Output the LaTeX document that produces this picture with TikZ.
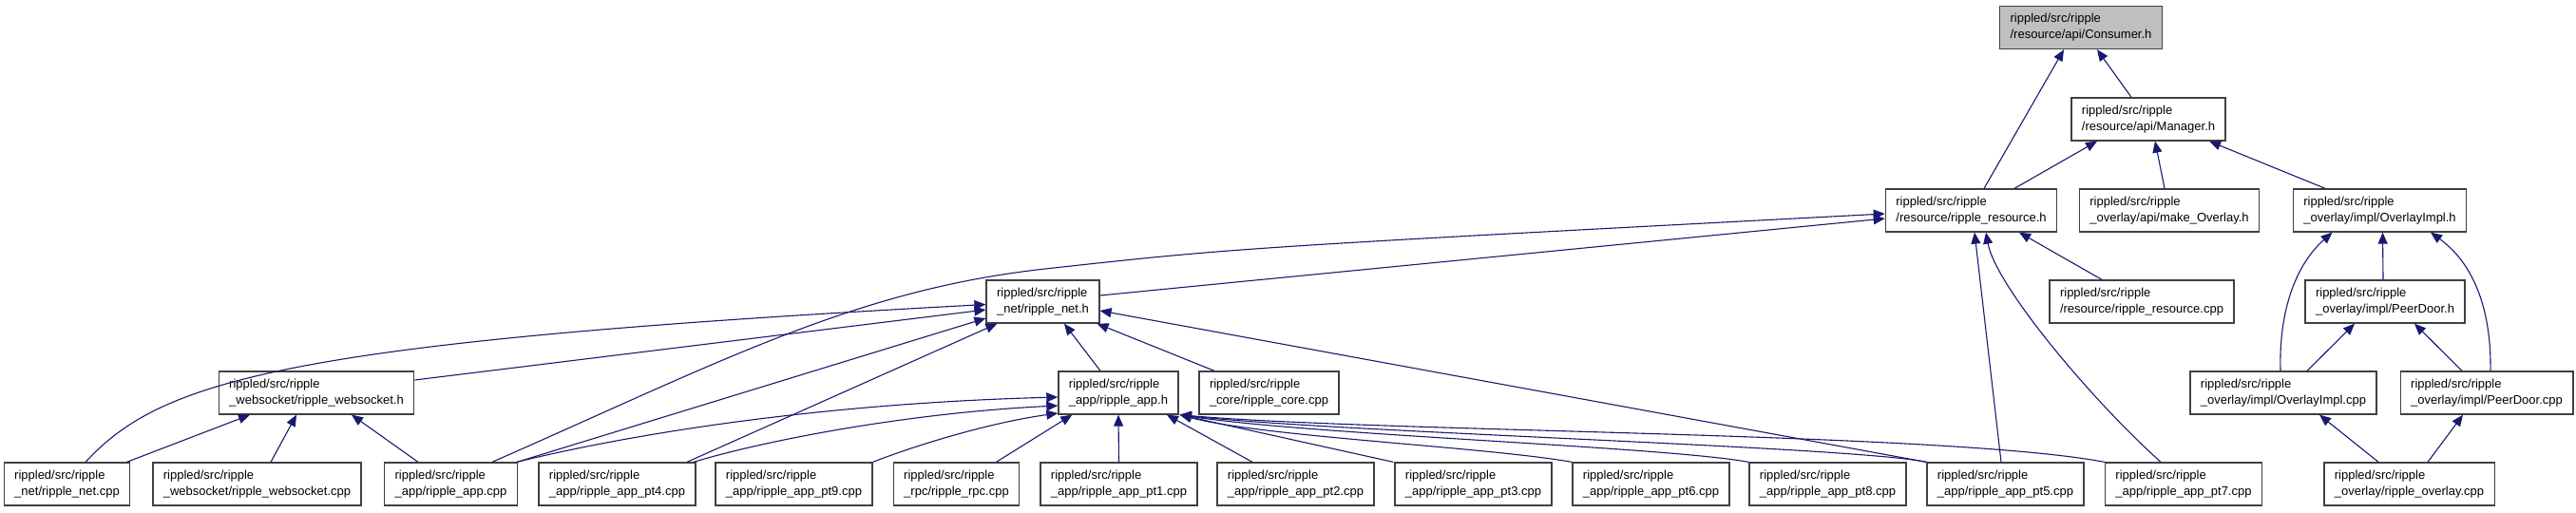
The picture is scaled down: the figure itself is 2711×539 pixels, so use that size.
\documentclass[tikz,border=0pt]{standalone}
\usepackage{fontspec}
\setmainfont{Liberation Sans}
\usetikzlibrary{arrows.meta,calc}
\definecolor{edgeblue}{RGB}{25,25,112}
\definecolor{boxline}{RGB}{64,64,64}
\definecolor{focusfill}{RGB}{191,191,191}
\newcommand{\rpath}[1]{rippled/src/ripple\\#1}
\begin{document}
\begin{tikzpicture}[x=1pt,y=-1pt,
  file/.style={draw=boxline,line width=1.3pt,fill=white,rectangle,inner xsep=11pt,inner ysep=0pt,
    minimum height=45pt,align=left,font=\fontsize{13}{17}\selectfont},
  focus/.style={file,fill=focusfill},
  dep/.style={draw=edgeblue,line width=1.1pt,-{Triangle[length=12pt,width=10pt]}}]
\fill[white] (0,0) rectangle (2711,539);
\useasboundingbox (0,0) rectangle (2711,539);
% row 0
\node[focus] (consumer) at (2190,29) {\rpath{/resource/api/Consumer.h}};
% row 1
\node[file] (manager) at (2261,125.5) {\rpath{/resource/api/Manager.h}};
% row 2
\node[file] (reshdr) at (2074.5,221.5) {\rpath{/resource/ripple\_resource.h}};
\node[file] (makeov) at (2283,221.5) {\rpath{\_overlay/api/make\_Overlay.h}};
\node[file] (ovimplh) at (2504.5,221.5) {\rpath{\_overlay/impl/OverlayImpl.h}};
% row 3
\node[file] (neth) at (1097.5,317.5) {\rpath{\_net/ripple\_net.h}};
\node[file] (rescpp) at (2254,317.5) {\rpath{/resource/ripple\_resource.cpp}};
\node[file] (peerdoorh) at (2510,317.5) {\rpath{\_overlay/impl/PeerDoor.h}};
% row 4
\node[file] (wsh) at (333,413.5) {\rpath{\_websocket/ripple\_websocket.h}};
\node[file] (apph) at (1177,413.5) {\rpath{\_app/ripple\_app.h}};
\node[file] (corecpp) at (1335.5,413.5) {\rpath{\_core/ripple\_core.cpp}};
\node[file] (ovimplcpp) at (2403,413.5) {\rpath{\_overlay/impl/OverlayImpl.cpp}};
\node[file] (peerdoorcpp) at (2617,413.5) {\rpath{\_overlay/impl/PeerDoor.cpp}};
% row 5
\node[file] (netcpp) at (70.5,509.5) {\rpath{\_net/ripple\_net.cpp}};
\node[file] (wscpp) at (270.5,509.5) {\rpath{\_websocket/ripple\_websocket.cpp}};
\node[file] (appcpp) at (474.5,509.5) {\rpath{\_app/ripple\_app.cpp}};
\node[file] (pt4) at (649.5,509.5) {\rpath{\_app/ripple\_app\_pt4.cpp}};
\node[file] (pt9) at (835.5,509.5) {\rpath{\_app/ripple\_app\_pt9.cpp}};
\node[file] (rpc) at (1006.5,509.5) {\rpath{\_rpc/ripple\_rpc.cpp}};
\node[file] (pt1) at (1177.5,509.5) {\rpath{\_app/ripple\_app\_pt1.cpp}};
\node[file] (pt2) at (1363.5,509.5) {\rpath{\_app/ripple\_app\_pt2.cpp}};
\node[file] (pt3) at (1550.5,509.5) {\rpath{\_app/ripple\_app\_pt3.cpp}};
\node[file] (pt6) at (1737.5,509.5) {\rpath{\_app/ripple\_app\_pt6.cpp}};
\node[file] (pt8) at (1923.5,509.5) {\rpath{\_app/ripple\_app\_pt8.cpp}};
\node[file] (pt5) at (2110.5,509.5) {\rpath{\_app/ripple\_app\_pt5.cpp}};
\node[file] (pt7) at (2298,509.5) {\rpath{\_app/ripple\_app\_pt7.cpp}};
\node[file] (ovcpp) at (2535.5,509.5) {\rpath{\_overlay/ripple\_overlay.cpp}};
% edges: top part
\draw[dep] ($(manager.north)+(-18,0)$) -- ($(consumer.south)+(17,0)$);
\draw[dep] ($(reshdr.north)+(13.5,0)$) -- ($(consumer.south)+(-18,0)$);
\draw[dep] ($(reshdr.north)+(45.5,0)$) -- ($(manager.south)+(-54,0)$);
\draw[dep] ($(makeov.north)+(-5,0)$) -- ($(manager.south)+(7,0)$);
\draw[dep] ($(ovimplh.north)+(-57.5,0)$) -- ($(manager.south)+(64,0)$);
\draw[dep] ($(rescpp.north)+(-42,0)$) -- ($(reshdr.south)+(50.5,0)$);
\draw[dep] ($(pt5.north)+(-4.5,0)$) -- ($(reshdr.south)+(3.5,0)$);
\draw[dep] ($(pt7.north)+(-24,0)$) .. controls (2200,420) and (2100,300) .. ($(reshdr.south)+(15.5,0)$);
\draw[dep] ($(appcpp.north)+(43.5,0)$) .. controls (760,380) and (900,305) .. (1100,283) .. controls (1300,261) .. ($(reshdr.west)+(0,3.5)$);
\draw[dep] ($(neth.east)+(0,-6.5)$) -- ($(reshdr.west)+(0,8.5)$);
% edges into ripple_net.h
\draw[dep] ($(netcpp.north)+(19.5,0)$) .. controls (170,400) and (300,360) .. ($(neth.west)+(0,3)$);
\draw[dep] ($(wsh.east)+(0,-13.5)$) -- ($(neth.west)+(0,8.5)$);
\draw[dep] ($(appcpp.north east)+(-1,0)$) -- ($(neth.west)+(0,17.5)$);
\draw[dep] ($(pt4.north)+(73.5,0)$) -- ($(neth.south west)+(12,0)$);
\draw[dep] ($(apph.north)+(-19,0)$) -- ($(neth.south)+(22.5,0)$);
\draw[dep] ($(corecpp.north)+(-57.5,0)$) -- ($(neth.south east)+(-3,0)$);
\draw[dep] (pt5.north west) -- ($(neth.east)+(0,9.5)$);
% edges into ripple_websocket.h
\draw[dep] ($(netcpp.north east)+(-4,0)$) -- ($(wsh.south)+(-70,0)$);
\draw[dep] ($(wscpp.north)+(14.5,0)$) -- ($(wsh.south)+(-21,0)$);
\draw[dep] ($(appcpp.north)+(-34.5,0)$) -- ($(wsh.south)+(37,0)$);
% edges into ripple_app.h
\draw[dep] ($(appcpp.north east)+(-1,0)$) .. controls (650,460) and (850,425) .. ($(apph.west)+(0,4.5)$);
\draw[dep] ($(pt4.north)+(80.5,0)$) .. controls (800,465) and (950,435) .. ($(apph.west)+(0,13.5)$);
\draw[dep] (pt9.north east) .. controls (960,470) and (1040,445) .. ($(apph.west)+(0,21.5)$);
\draw[dep] ($(rpc.north east)+(-25,0)$) -- ($(apph.south west)+(15,0)$);
\draw[dep] (pt1.north) -- (apph.south);
\draw[dep] ($(pt2.north)+(-45.5,0)$) -- ($(apph.south)+(51,0)$);
\draw[dep] ($(pt3.north west)+(-1,0)$) -- ($(apph.south east)+(1,0)$);
\draw[dep] (pt6.north west) .. controls (1560,470) and (1330,460) .. ($(apph.south east)+(1,0)$);
\draw[dep] (pt8.north west) .. controls (1750,470) and (1380,458) .. ($(apph.south east)+(1,0)$);
\draw[dep] (pt5.north west) .. controls (1950,470) and (1400,455) .. ($(apph.south east)+(1,0)$);
\draw[dep] (pt7.north west) .. controls (2050,455) and (1450,455) .. ($(apph.south east)+(1,0)$);
% overlay part
\draw[dep] ($(peerdoorh.north)+(-2,0)$) -- ($(ovimplh.south)+(3,0)$);
\draw[dep] ($(ovimplcpp.north)+(-3,0)$) .. controls (2398,320) and (2420,275) .. ($(ovimplh.south)+(-50,0)$);
\draw[dep] ($(peerdoorcpp.north)+(4,0)$) .. controls (2622,320) and (2600,275) .. ($(ovimplh.south)+(53.5,0)$);
\draw[dep] ($(ovimplcpp.north)+(25,0)$) -- ($(peerdoorh.south)+(-32,0)$);
\draw[dep] ($(peerdoorcpp.north)+(-26,0)$) -- ($(peerdoorh.south)+(31,0)$);
\draw[dep] ($(ovcpp.north)+(-32.5,0)$) -- ($(ovimplcpp.south)+(38,0)$);
\draw[dep] ($(ovcpp.north)+(19.5,0)$) -- ($(peerdoorcpp.south)+(-25,0)$);
\end{tikzpicture}
\end{document}
